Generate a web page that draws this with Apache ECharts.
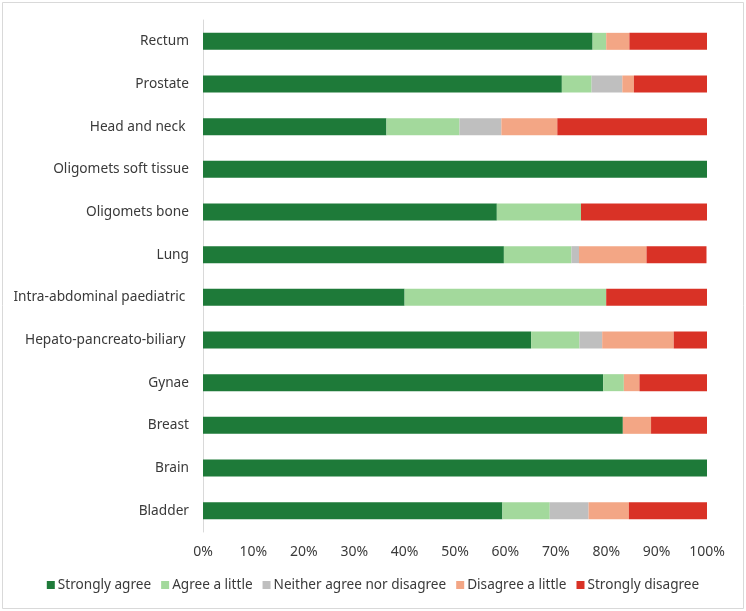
<!DOCTYPE html>
<html>
<head>
<meta charset="UTF-8">
<title>Stacked agreement</title>
<script src="https://cdn.jsdelivr.net/npm/echarts@6/dist/echarts.min.js"></script>
<style>
  html, body { margin: 0; padding: 0; width: 100%; height: 100%; background: #fff; overflow: hidden; }
  #main { width: 746px; height: 611px; }
</style>
</head>
<body>
<div id="main"></div>
<script>
// categories listed bottom to top
var categories = ['Bladder', 'Brain', 'Breast', 'Gynae', 'Hepato-pancreato-biliary ',
  'Intra-abdominal paediatric ', 'Lung', 'Oligomets bone', 'Oligomets soft tissue',
  'Head and neck ', 'Prostate', 'Rectum'];
var seriesNames = ['Strongly agree', 'Agree a little', 'Neither agree nor disagree',
  'Disagree a little', 'Strongly disagree'];
var stronglyAgree    = [59.4, 100, 83.3, 79.4, 65.1, 40, 59.7, 58.3, 100, 36.4, 71.2, 77.3];
var agreeLittle      = [9.4, 0, 0, 4.1, 9.6, 40, 13.4, 16.7, 0, 14.5, 5.9, 2.7];
var neither          = [7.7, 0, 0, 0, 4.5, 0, 1.5, 0, 0, 8.3, 6.1, 0];
var disagreeLittle   = [8.0, 0, 5.6, 3.1, 14.2, 0, 13.4, 0, 0, 11.1, 2.3, 4.6];
var stronglyDisagree = [15.5, 0, 11.1, 13.4, 6.6, 20, 11.9, 25, 0, 29.7, 14.5, 15.4];
var xTicks = [0, 10, 20, 30, 40, 50, 60, 70, 80, 90, 100];

var colors = ['#1e7a39', '#a3d99c', '#bfbfbf', '#f3a685', '#d93226'];
var allData = [stronglyAgree, agreeLittle, neither, disagreeLittle, stronglyDisagree];
var font = 'Noto Sans';

var chart = echarts.init(document.getElementById('main'));
var option = {
  backgroundColor: '#fff',
  textStyle: { fontFamily: font },
  graphic: [{
    type: 'rect',
    shape: { x: 2.5, y: 2.5, width: 741, height: 606 },
    style: { fill: 'none', stroke: '#d9d9d9', lineWidth: 1 },
    silent: true
  }],
  grid: { left: 203, right: 39, top: 20, bottom: 79 },
  legend: {
    bottom: 14,
    left: 'center',
    itemWidth: 8,
    itemHeight: 8,
    itemGap: 10,
    icon: 'rect',
    textStyle: { fontSize: 13.6, color: '#3a3a3a', fontFamily: font, padding: [0, 0, 0, -2] },
    data: seriesNames
  },
  xAxis: {
    type: 'value',
    min: 0,
    max: 100,
    interval: 10,
    axisLine: { show: false },
    axisTick: { show: false },
    splitLine: { show: false },
    axisLabel: {
      color: '#3a3a3a',
      fontSize: 14,
      margin: 13,
      formatter: function (v) { return xTicks.indexOf(v) >= 0 ? v + '%' : ''; }
    }
  },
  yAxis: {
    type: 'category',
    data: categories,
    axisLine: { show: true, lineStyle: { color: '#d9d9d9', width: 1 } },
    axisTick: { show: false },
    axisLabel: { color: '#3a3a3a', fontSize: 13.7, margin: 14 }
  },
  series: seriesNames.map(function (name, i) {
    return {
      name: name,
      type: 'bar',
      stack: 'total',
      barWidth: 17,
      itemStyle: { color: colors[i] },
      emphasis: { disabled: true },
      data: allData[i]
    };
  })
};
chart.setOption(option);
window.onresize = function () { chart.resize(); };
</script>
</body>
</html>
